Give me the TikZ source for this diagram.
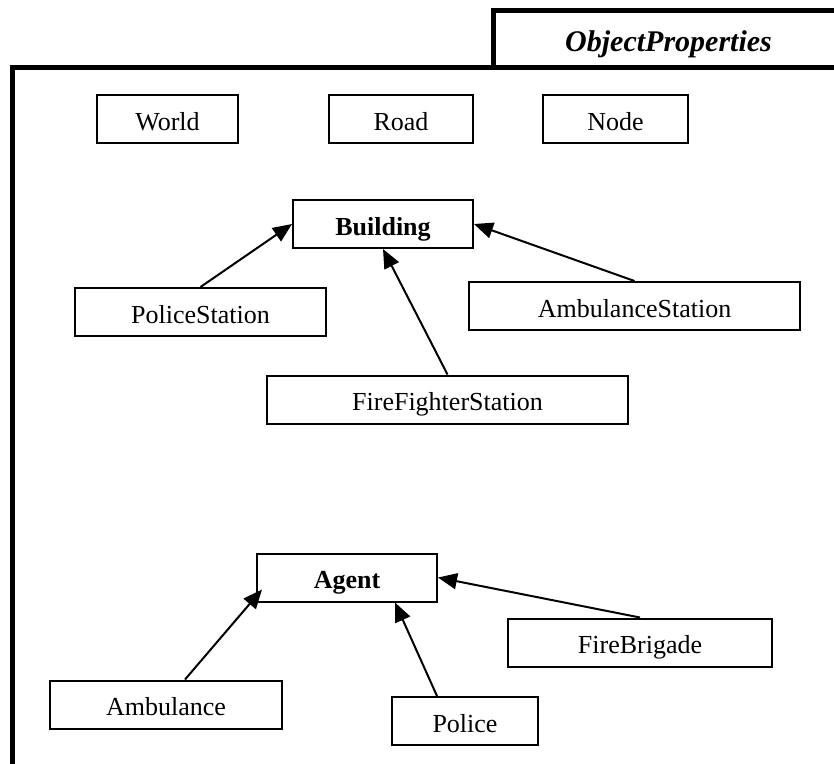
\documentclass[tikz,border=0pt]{standalone}
\usepackage{fontspec}
\setmainfont{Liberation Serif}
\usetikzlibrary{arrows.meta,calc}
\tikzset{
  cls/.style={draw=black, line width=2pt, fill=white, inner sep=0pt, minimum height=48pt,
    text height=22.5pt, text depth=0pt,
    font=\fontsize{26}{30}\selectfont},
  bcls/.style={cls, font=\fontsize{26}{30}\selectfont\bfseries},
  inh/.style={line width=2pt, -{Triangle[length=19pt,width=16pt]}},
  frame/.style={line width=5pt, line cap=butt}
}
\begin{document}
\begin{tikzpicture}[x=1pt,y=-1pt]
\useasboundingbox (0,0) rectangle (834,763);
% package frame and tab
\draw[frame] (493,70) -- (493,10.5) -- (840,10.5);
\draw[frame] (12,770) -- (12,67.5) -- (840,67.5);
\node[font=\fontsize{30}{34}\selectfont\bfseries\itshape, anchor=base, inner sep=0pt] (title) at (668.5,51) {ObjectProperties};
% classes
\node[cls, minimum width=141pt] (world) at (167.5,119) {World};
\node[cls, minimum width=144pt] (road) at (401,119) {Road};
\node[cls, minimum width=145pt] (node) at (615.5,119) {Node};
\node[bcls, minimum width=180pt] (building) at (383,224) {Building};
\node[cls, minimum width=251pt] (ps) at (200.5,312) {PoliceStation};
\node[cls, minimum width=331pt] (as) at (634.5,306) {AmbulanceStation};
\node[cls, minimum width=361pt] (ffs) at (447.5,399.5) {FireFighterStation};
\node[bcls, minimum width=180pt] (agent) at (347,577.5) {Agent};
\node[cls, minimum width=264pt] (fb) at (640,642.5) {FireBrigade};
\node[cls, minimum width=232pt] (amb) at (166,704.5) {Ambulance};
\node[cls, minimum width=146pt] (police) at (465,721) {Police};
% inheritance
\draw[inh] (ps.north) -- (building.west);
\draw[inh] (ffs.north) -- (building.south);
\draw[inh] (as.north) -- (building.east);
\draw[inh] ($(amb.north)+(19,0)$) -- ($(agent.south west)+(6,-13)$);
\draw[inh] ($(police.north)+(-28,0)$) -- ($(agent.south)+(48,0)$);
\draw[inh] (fb.north) -- (agent.east);
\end{tikzpicture}
\end{document}
